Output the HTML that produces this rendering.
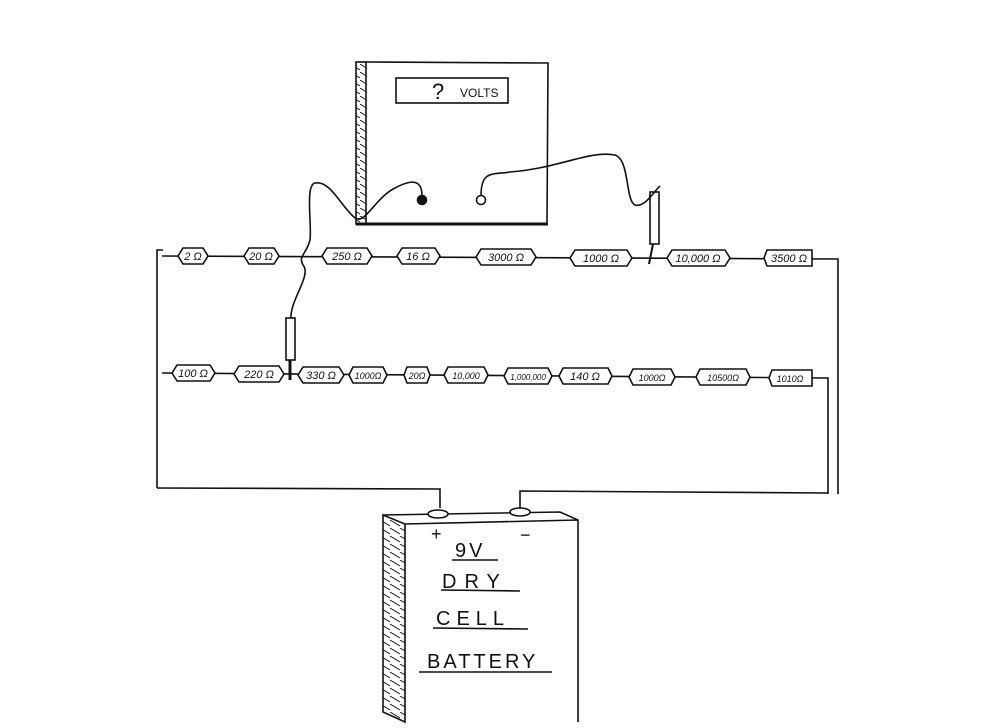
<!DOCTYPE html>
<html><head><meta charset="utf-8"><style>
body{margin:0;background:#fff}
svg{display:block}
text{font-family:"Liberation Sans",sans-serif;font-style:italic;fill:#111}
</style></head><body>
<svg width="1000" height="728" viewBox="0 0 1000 728" xmlns="http://www.w3.org/2000/svg">
<defs>
<pattern id="h" width="10" height="8" patternUnits="userSpaceOnUse"><path d="M0,0 L10,6" stroke="#222" stroke-width="1"/></pattern>
</defs>
<g fill="none" stroke="#111" stroke-width="1.6">
<!-- meter -->
<path d="M366,62 L548,63 L547,224"/>
<rect x="356" y="62" width="10" height="162" fill="url(#h)"/>
<path d="M356,224 L548,224" stroke-width="3"/>
<rect x="396" y="78" width="112" height="25"/>
<circle cx="422" cy="200" r="4.5" fill="#111"/>
<circle cx="481" cy="200" r="4.5"/>
<!-- left lead -->
<path d="M422,196 C422,178 410,180 395,188 C375,198 365,225 355,218 C340,205 330,180 315,183 C305,185 312,225 310,240 C306,255 298,256 303,265 C312,275 290,300 291,318"/>
<rect x="286" y="318" width="9" height="42"/>
<path d="M290,360 L290,380" stroke-width="3"/>
<!-- right lead -->
<path d="M481,196 C481,170 492,175 510,172 C560,168 590,150 615,155 C630,160 625,200 635,205 C645,208 655,190 660,186"/>
<rect x="650" y="192" width="9" height="52"/>
<path d="M653,244 L649,264" stroke-width="2"/>
<!-- circuit wires -->
<path d="M157,488 L157,250 L163,250"/>
<path d="M162,256 L838,259 L838,494"/>
<path d="M162,373 L828,378 L828,494"/>
<path d="M157,488 L440,489 L440,508"/>
<path d="M520,508 L520,491 L828,493"/>
</g>
<!-- resistors -->
<g stroke="#111" stroke-width="1.6" fill="#fff">
<path d="M178,256 l5,-8 h20 l5,8 l-5,8 h-20z"/>
<path d="M244,256 l5,-8 h25 l5,8 l-5,8 h-25z"/>
<path d="M322,256 l5,-8 h40 l5,8 l-5,8 h-40z"/>
<path d="M397,256 l5,-8 h33 l5,8 l-5,8 h-33z"/>
<path d="M476,257 l5,-8 h50 l5,8 l-5,8 h-50z"/>
<path d="M570,258 l5,-8 h52 l5,8 l-5,8 h-52z"/>
<path d="M667,258 l5,-8 h53 l5,8 l-5,8 h-53z"/>
<path d="M764,258 l3,-8 h45 v16 h-45z"/>
<path d="M172,373 l5,-8 h33 l5,8 l-5,8 h-33z"/>
<path d="M234,374 l5,-8 h40 l5,8 l-5,8 h-40z"/>
<path d="M298,375 l5,-8 h36 l5,8 l-5,8 h-36z"/>
<path d="M349,375 l4,-8 h30 l4,8 l-4,8 h-30z"/>
<path d="M404,375 l3,-8 h20 l3,8 l-3,8 h-20z"/>
<path d="M444,375 l4,-8 h36 l4,8 l-4,8 h-36z"/>
<path d="M504,376 l4,-8 h40 l4,8 l-4,8 h-40z"/>
<path d="M559,376 l4,-8 h45 l4,8 l-4,8 h-45z"/>
<path d="M629,377 l4,-8 h38 l4,8 l-4,8 h-38z"/>
<path d="M696,377 l4,-8 h46 l4,8 l-4,8 h-46z"/>
<path d="M769,378 l3,-8 h40 v16 h-40z"/>
</g>
<g font-size="11" text-anchor="middle">
<text x="193" y="260">2 Ω</text>
<text x="261" y="260">20 Ω</text>
<text x="347" y="260">250 Ω</text>
<text x="418" y="260">16 Ω</text>
<text x="506" y="261">3000 Ω</text>
<text x="601" y="262">1000 Ω</text>
<text x="698" y="262">10,000 Ω</text>
<text x="789" y="262">3500 Ω</text>
<text x="193" y="377">100 Ω</text>
<text x="259" y="378">220 Ω</text>
<text x="321" y="379">330 Ω</text>
<text x="368" y="379" font-size="9">1000Ω</text>
<text x="417" y="379" font-size="9">20Ω</text>
<text x="466" y="379" font-size="9">10,000</text>
<text x="528" y="380" font-size="8">1,000,000</text>
<text x="585" y="380">140 Ω</text>
<text x="652" y="381" font-size="9">1000Ω</text>
<text x="723" y="381" font-size="9">10500Ω</text>
<text x="790" y="382" font-size="9">1010Ω</text>
</g>
<text x="432" y="99" font-size="22" style="font-style:normal">?</text>
<text x="460" y="97" font-size="12" style="font-style:normal">VOLTS</text>
<!-- battery -->
<g fill="none" stroke="#111" stroke-width="1.6">
<path d="M383,515 L405,524 L405,722 L383,712 Z" fill="url(#h)"/>
<path d="M383,515 L560,512 L578,520 L578,722 M405,524 L578,520"/>
<ellipse cx="438" cy="514" rx="10" ry="4" fill="#fff"/>
<ellipse cx="520" cy="512" rx="10" ry="4" fill="#fff"/>
<path d="M452,560 L498,560 M441,590 L520,591 M433,628 L528,629 M419,672 L552,672"/>
</g>
<g font-size="20" style="font-style:normal" font-family="Liberation Sans">
<text x="431" y="540" font-size="18" style="font-style:normal">+</text>
<text x="520" y="541" font-size="18" style="font-style:normal">−</text>
<text x="455" y="557" style="font-style:normal" letter-spacing="3">9V</text>
<text x="442" y="588" style="font-style:normal" letter-spacing="8">DRY</text>
<text x="436" y="625" style="font-style:normal" letter-spacing="6">CELL</text>
<text x="427" y="668" style="font-style:normal" letter-spacing="3">BATTERY</text>
</g>
</svg>
</body></html>
